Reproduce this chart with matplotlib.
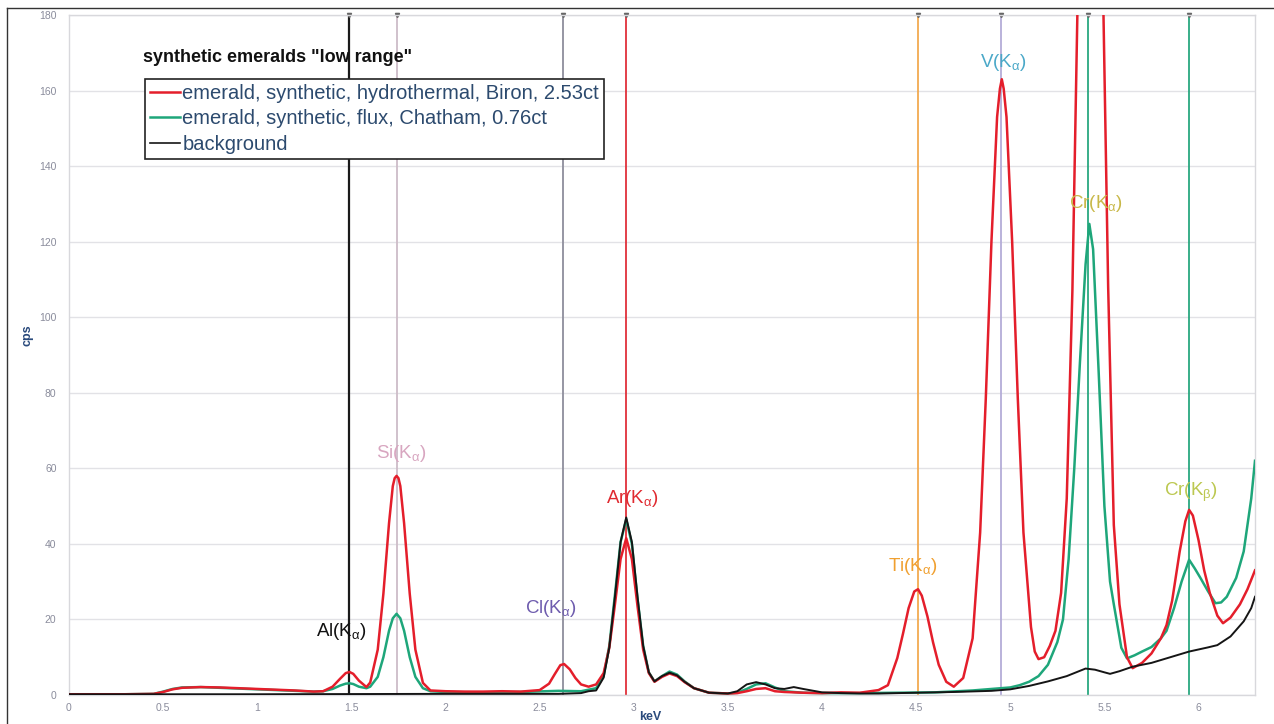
import matplotlib
matplotlib.use("Agg")
import matplotlib.pyplot as plt
from matplotlib.lines import Line2D

plt.rcParams['font.family'] = ['Liberation Sans', 'DejaVu Sans']
plt.rcParams['mathtext.fontset'] = 'custom'
plt.rcParams['mathtext.rm'] = 'Liberation Sans'
plt.rcParams['mathtext.it'] = 'Liberation Sans'

# --- spectra (keV, cps) ---
hydro_kev = [0, 0.3, 0.45, 0.5, 0.55, 0.6, 0.7, 0.8, 0.9, 1.0, 1.1, 1.2, 1.3,
             1.35, 1.40, 1.44, 1.47, 1.49, 1.51, 1.54, 1.58, 1.60, 1.64, 1.67,
             1.70, 1.72, 1.73, 1.74, 1.75, 1.76, 1.78, 1.81, 1.84, 1.88, 1.92,
             2.0, 2.1, 2.2, 2.3, 2.4, 2.5, 2.55, 2.58, 2.61, 2.63, 2.66, 2.69,
             2.72, 2.76, 2.80, 2.84, 2.87, 2.90, 2.93, 2.96, 2.99, 3.02, 3.05,
             3.08, 3.11, 3.15, 3.19, 3.23, 3.27, 3.32, 3.40, 3.5, 3.55, 3.6,
             3.65, 3.7, 3.75, 3.8, 3.85, 3.9, 4.0, 4.1, 4.2, 4.3, 4.35, 4.40,
             4.43, 4.46, 4.49, 4.51, 4.53, 4.56, 4.59, 4.62, 4.66, 4.70, 4.75,
             4.80, 4.84, 4.87, 4.90, 4.93, 4.945, 4.955, 4.965, 4.98, 5.01,
             5.04, 5.07, 5.11, 5.13, 5.15, 5.18, 5.21, 5.24, 5.27, 5.30, 5.33,
             5.36, 5.39, 5.424, 5.46, 5.49, 5.52, 5.55, 5.58, 5.62, 5.65, 5.70,
             5.75, 5.80, 5.83, 5.86, 5.90, 5.93, 5.95, 5.97, 6.00, 6.03, 6.06,
             6.10, 6.13, 6.17, 6.22, 6.26, 6.30]
hydro_cps = [0.2, 0.2, 0.3, 0.8, 1.5, 1.9, 2.1, 2.0, 1.8, 1.6, 1.4, 1.2, 0.9,
             1.0, 2.2, 4.3, 5.8, 6.1, 5.6, 3.8, 2.1, 3.3, 12, 26.8,
             45.5, 55.3, 57.4, 58, 57.4, 55.3, 45.5, 26.8, 12, 3.2, 1.2,
             1.0, 0.9, 0.9, 1.0, 0.9, 1.3, 3.0, 5.5, 7.9, 8.2, 6.8, 4.5,
             2.8, 2.2, 2.8, 5.8, 12.5, 24, 36, 41.5, 36, 23.5, 12,
             5.8, 3.5, 4.8, 5.7, 5.0, 3.4, 1.8, 0.6, 0.4, 0.5, 1.0,
             1.6, 1.8, 1.0, 0.8, 0.7, 0.6, 0.5, 0.7, 0.6, 1.3, 2.6, 9.8,
             16.2, 23, 27.4, 28, 26.3, 20.8, 13.9, 8.0, 3.5, 2.2, 4.5,
             15, 43, 78.5, 120, 153, 160.5, 163, 160.5, 153, 120,
             78.5, 43, 18, 11.5, 9.5, 10, 13, 17, 27, 52, 107,
             190, 292, 345, 288, 195, 108, 45, 24, 10, 7.1, 8.5,
             11, 15, 18.5, 25, 38, 46, 49, 47.5, 41, 33, 27,
             21, 19, 20.5, 24, 28, 33]

flux_kev = [0, 0.3, 0.45, 0.5, 0.55, 0.6, 0.7, 0.8, 0.9, 1.0, 1.1, 1.2, 1.3,
            1.35, 1.40, 1.44, 1.47, 1.49, 1.51, 1.54, 1.58, 1.60, 1.64, 1.67,
            1.70, 1.72, 1.74, 1.76, 1.78, 1.81, 1.84, 1.88, 1.92, 2.0, 2.2,
            2.4, 2.6, 2.72, 2.76, 2.80, 2.84, 2.87, 2.90, 2.93, 2.96, 2.99,
            3.02, 3.05, 3.08, 3.11, 3.15, 3.19, 3.23, 3.27, 3.32, 3.40, 3.5,
            3.55, 3.6, 3.65, 3.7, 3.75, 3.8, 3.85, 3.9, 4.0, 4.2, 4.4, 4.6,
            4.8, 4.9, 5.0, 5.05, 5.10, 5.15, 5.20, 5.25, 5.28, 5.31, 5.34,
            5.37, 5.40, 5.42, 5.44, 5.47, 5.50, 5.53, 5.55, 5.59, 5.62, 5.66,
            5.70, 5.75, 5.80, 5.83, 5.87, 5.91, 5.95, 5.98, 6.01, 6.05, 6.09,
            6.12, 6.15, 6.20, 6.24, 6.28, 6.30]
flux_cps = [0.2, 0.2, 0.3, 0.9, 1.6, 2.0, 2.1, 1.9, 1.7, 1.5, 1.3, 1.1, 0.9,
            1.0, 1.6, 2.5, 3.0, 3.1, 2.9, 2.2, 1.8, 2.2, 4.8, 10,
            17, 20.3, 21.5, 20.3, 17, 10, 4.8, 1.8, 1.0, 0.8, 0.7,
            0.8, 1.1, 1.0, 1.4, 1.8, 5.0, 13, 26.5, 40.5, 46.5, 40,
            25.5, 13, 6.0, 3.6, 5.0, 6.2, 5.4, 3.6, 1.8, 0.6, 0.4,
            0.6, 1.6, 2.8, 3.1, 2.0, 1.0, 0.8, 0.6, 0.5, 0.5, 0.6, 0.7,
            1.2, 1.6, 2.0, 2.6, 3.5, 5.0, 8.0, 14, 20, 36, 60,
            88, 114, 124.7, 118, 85, 50, 30, 24, 12.5, 9.7, 10.5,
            11.5, 12.7, 15, 17, 23, 30, 35.8, 33.5, 31, 27.5, 24.3,
            24.5, 26, 31, 38, 52, 62]

bg_kev = [0, 1.0, 2.0, 2.6, 2.72, 2.76, 2.80, 2.84, 2.87, 2.90, 2.93, 2.96,
          2.99, 3.02, 3.05, 3.08, 3.11, 3.15, 3.19, 3.23, 3.27, 3.32, 3.40,
          3.5, 3.55, 3.6, 3.65, 3.7, 3.75, 3.8, 3.85, 3.9, 4.0, 4.1, 4.2,
          4.3, 4.5, 4.7, 4.9, 5.0, 5.1, 5.2, 5.3, 5.35, 5.40, 5.45, 5.50,
          5.53, 5.58, 5.65, 5.75, 5.83, 5.95, 6.05, 6.10, 6.17, 6.24, 6.28,
          6.30]
bg_cps = [0.2, 0.2, 0.3, 0.3, 0.5, 1.0, 1.2, 4.6, 12.5, 26, 40.5, 47,
          40.5, 26, 13, 6.0, 3.6, 5.0, 5.9, 5.2, 3.5, 1.8, 0.6,
          0.4, 1.0, 2.8, 3.4, 2.8, 1.8, 1.6, 2.1, 1.6, 0.7, 0.5, 0.4,
          0.4, 0.6, 0.8, 1.1, 1.5, 2.4, 3.6, 5.0, 6.0, 7.0, 6.7, 6.0,
          5.6, 6.3, 7.5, 8.5, 9.7, 11.5, 12.6, 13.2, 15.5, 19.5, 23,
          26]

series_labels = ['emerald, synthetic, hydrothermal, Biron, 2.53ct',
                 'emerald, synthetic, flux, Chatham, 0.76ct',
                 'background']

# --- element lines ---
line_names = ['Al', 'Si', 'Cl', 'Ar', 'Ti', 'V', 'Cr', 'Cr']
line_shells = [r'\alpha', r'\alpha', r'\alpha', r'\alpha', r'\alpha', r'\alpha',
               r'\alpha', r'\beta']
line_kev = [1.487, 1.740, 2.622, 2.957, 4.511, 4.952, 5.415, 5.947]
line_colors = ['#1a1a1a', '#cdbcc8', '#8e8e9c', '#e0303a', '#f2aa50',
               '#b4acd8', '#2aa880', '#2aa880']
label_colors = ['#111111', '#d8a6c0', '#6e5cae', '#e02a30', '#f0a030',
                '#4aa8c8', '#c8b848', '#bcc850']
label_pos = [(1.445, 16.7), (1.765, 64), (2.56, 23), (2.995, 52), (4.485, 34),
             (4.965, 167.5), (5.455, 130), (5.96, 53.5)]

fig = plt.figure(figsize=(12.74, 7.24), dpi=100)
ax = fig.add_axes([69 / 1274, 29 / 724, 1186 / 1274, 680 / 724])

ax.set_xlim(0, 6.30)
ax.set_ylim(0, 180)

for kev, col in zip(line_kev, line_colors):
    lw = 1.6 if col == '#1a1a1a' else 1.3
    ax.axvline(kev, color=col, lw=lw, zorder=2)
    ax.plot([kev], [180], marker='v', ms=3, color='#666666', clip_on=False, zorder=2)

ax.plot(flux_kev, flux_cps, color='#1ea67a', lw=1.8, label=series_labels[1], zorder=3)
ax.plot(hydro_kev, hydro_cps, color='#e41e2b', lw=1.8, label=series_labels[0], zorder=4)
ax.plot(bg_kev, bg_cps, color='#151515', lw=1.4, label=series_labels[2], zorder=5)

for name, shell, (lx, ly), col in zip(line_names, line_shells, label_pos, label_colors):
    ax.text(lx, ly, name + '(K$_{' + shell + '}$)', color=col, fontsize=13.5,
            ha='center', va='center', zorder=6)

ax.set_yticks(range(0, 181, 20))
ax.set_xticks([i * 0.5 for i in range(13)])
ax.set_xticklabels(['0', '0.5', '1', '1.5', '2', '2.5', '3', '3.5', '4', '4.5',
                    '5', '5.5', '6'])
ax.tick_params(length=0, labelsize=7.5, colors='#8a8c9c')
ax.tick_params(axis='x', pad=6)
ax.tick_params(axis='y', pad=9)
ax.grid(axis='y', color='#e2e2e6', lw=1)
ax.set_axisbelow(True)
for s in ax.spines.values():
    s.set_color('#d8d8dc')
    s.set_linewidth(1)

# axis titles placed in figure pixels
fig.text(650 / 1274, 1 - 717 / 724, 'keV', fontsize=9, fontweight='bold',
         color='#2a4a7c', ha='center', va='center')
fig.text(27 / 1274, 1 - 335 / 724, 'cps', fontsize=9, fontweight='bold',
         color='#2a4a7c', ha='center', va='center', rotation=90)

handles = [Line2D([], [], color='#e41e2b', lw=1.8),
           Line2D([], [], color='#1ea67a', lw=1.8),
           Line2D([], [], color='#151515', lw=1.2)]
leg = ax.legend(handles, series_labels, loc='upper left',
                bbox_to_anchor=(76 / 1186, (695 - 79) / 680), borderaxespad=0,
                fontsize=14.5, handlelength=1.5, handletextpad=0.1,
                labelspacing=0.32, borderpad=0.25, fancybox=False,
                framealpha=1, edgecolor='#222222', labelcolor='#2c4a6e')
leg.get_frame().set_linewidth(1.2)
leg.set_zorder(7)

fig.text(143 / 1274, 1 - 57 / 724, 'synthetic emeralds "low range"',
         fontsize=13, fontweight='bold', color='#111111', ha='left', va='center')

# outer frame on the left and top edge
fig.add_artist(Line2D([7 / 1274, 7 / 1274], [0, 1 - 8 / 724], color='#333333',
                      lw=1, transform=fig.transFigure))
fig.add_artist(Line2D([7 / 1274, 1], [1 - 8 / 724, 1 - 8 / 724], color='#333333',
                      lw=1, transform=fig.transFigure))

fig.savefig('out.png', dpi=100, facecolor='white')
